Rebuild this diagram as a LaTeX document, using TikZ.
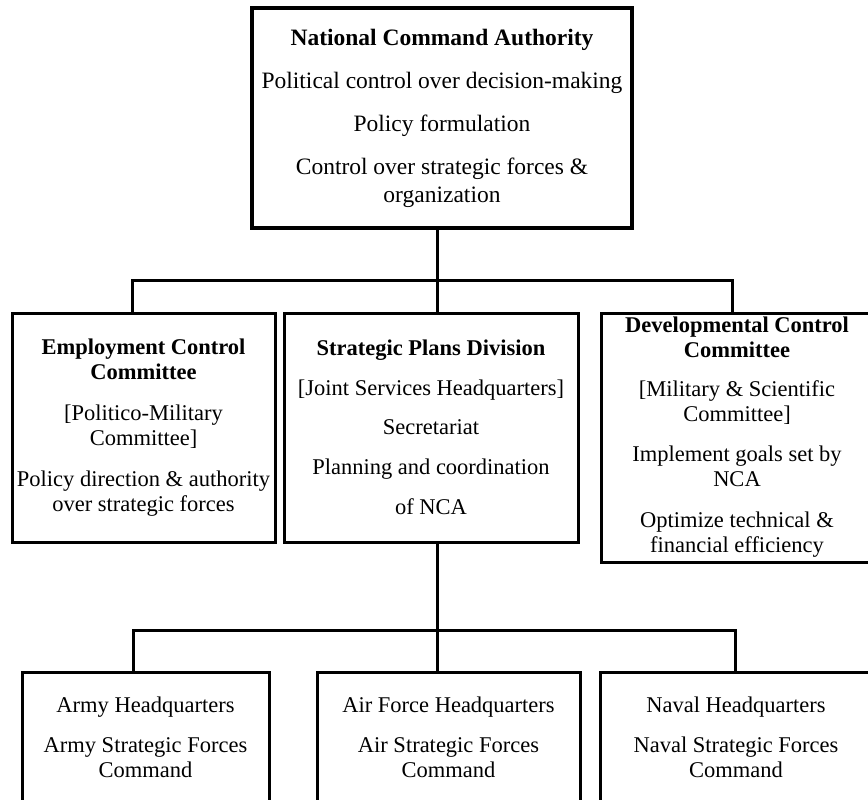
\documentclass[tikz,border=0pt]{standalone}
\usepackage{fontspec}
\setmainfont{Liberation Serif}
\begin{document}
\begin{tikzpicture}[x=1pt,y=-1pt,
  box/.style={draw,line width=3pt,rectangle,outer sep=0pt,inner sep=0pt,align=center,anchor=north west,font=\fontsize{22.5}{25}\selectfont},
  topbox/.style={box,line width=4.5pt,font=\fontsize{23.5}{27}\selectfont},
  conn/.style={line width=3pt}]
\useasboundingbox (0,0) rectangle (868,800);
\begin{scope}
\clip (0,0) rectangle (868,800);
\node[topbox,minimum width=380pt,minimum height=220pt] (nca) at (252,8)
  {\textbf{National Command Authority}\\[16pt]
   Political control over decision-making\\[16pt]
   Policy formulation\\[16pt]
   Control over strategic forces \&\\[1pt]
   organization};
\node[box,minimum width=263pt,minimum height=229pt] (ecc) at (12,313)
  {\textbf{Employment Control}\\
   \textbf{Committee}\\[16pt]
   [Politico-Military\\
   Committee]\\[16pt]
   Policy direction \& authority\\
   over strategic forces};
\node[box,minimum width=294pt,minimum height=229pt] (spd) at (284,313)
  {\textbf{Strategic Plans Division}\\[15pt]
   [Joint Services Headquarters]\\[14pt]
   Secretariat\\[15pt]
   Planning and coordination\\[15pt]
   of NCA};
\node[box,minimum width=272pt,minimum height=249pt] (dcc) at (601,313)
  {\textbf{Developmental Control}\\
   \textbf{Committee}\\[14pt]
   [Military \& Scientific\\
   Committee]\\[15pt]
   Implement goals set by\\
   NCA\\[16pt]
   Optimize technical \&\\
   financial efficiency};
\node[box,minimum width=247pt,minimum height=130pt] (army) at (22,672)
  {Army Headquarters\\[15pt]
   Army Strategic Forces\\
   Command};
\node[box,minimum width=263pt,minimum height=130pt] (air) at (317,672)
  {Air Force Headquarters\\[15pt]
   Air Strategic Forces\\
   Command};
\node[box,minimum width=272pt,minimum height=130pt] (naval) at (600,672)
  {Naval Headquarters\\[15pt]
   Naval Strategic Forces\\
   Command};
\coordinate (b1L) at (132,280);
\coordinate (b1C) at (437,280);
\coordinate (b1R) at (732,280);
\coordinate (b2L) at (133,630);
\coordinate (b2C) at (437,630);
\coordinate (b2R) at (735,630);
\draw[conn] (ecc.north -| b1L) -- (b1L) -- (b1R) -- (dcc.north -| b1R);
\draw[conn] (nca.south -| b1C) -- (spd.north -| b1C);
\draw[conn] (army.north -| b2L) -- (b2L) -- (b2R) -- (naval.north -| b2R);
\draw[conn] (spd.south -| b2C) -- (air.north -| b2C);
\end{scope}
\end{tikzpicture}
\end{document}
